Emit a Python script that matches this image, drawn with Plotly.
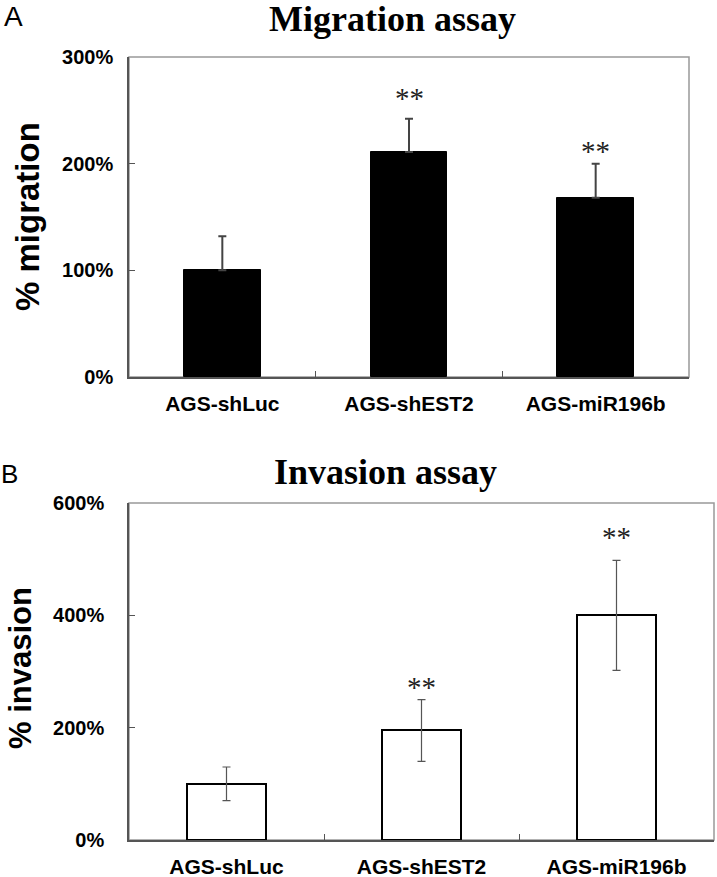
import plotly.graph_objects as go

# ---- data ----
categories = ["AGS-shLuc", "AGS-shEST2", "AGS-miR196b"]
migration_pct = [100, 211, 168]
migration_err = [32, 31, 32]
migration_sig = ["", "**", "**"]
invasion_pct = [100, 195, 400]
invasion_err = [30, 55, 98]
invasion_sig = ["", "**", "**"]
migration_ticks = [0, 100, 200, 300]
invasion_ticks = [0, 200, 400, 600]

W, H = 717, 877
def px(x): return x / W
def py(y): return 1 - y / H

fig = go.Figure()

fig.add_trace(go.Bar(
    x=categories, y=migration_pct, xaxis="x", yaxis="y", width=0.41,
    marker=dict(color="black", line=dict(color="black", width=1)),
    error_y=dict(type="data", symmetric=False, array=migration_err,
                 arrayminus=[0] * len(migration_err),
                 color="#444", thickness=2, width=4),
    showlegend=False, hoverinfo="skip"))

fig.add_trace(go.Bar(
    x=categories, y=invasion_pct, xaxis="x2", yaxis="y2", width=0.41,
    marker=dict(color="white", line=dict(color="black", width=2)),
    error_y=dict(type="data", array=invasion_err, color="#555",
                 thickness=1.2, width=4),
    showlegend=False, hoverinfo="skip"))

tickfont = dict(family="Liberation Sans, Arial", size=20, color="black", weight="bold")
xtickfont = dict(family="Liberation Sans, Arial", size=21, color="black", weight="bold")

common_x = dict(type="category", showline=True, linecolor="#555", linewidth=1.5,
                ticks="inside", tickson="boundaries", ticklen=6, tickcolor="#555",
                tickfont=xtickfont, showgrid=False, zeroline=False, fixedrange=True,
                automargin=False)
common_y = dict(showline=True, linecolor="#555", linewidth=1.5, ticks="inside",
                ticklen=6, tickcolor="#555", tickfont=tickfont, tickmode="array",
                showgrid=False, zeroline=False, fixedrange=True, automargin=False)

fig.update_layout(
    width=W, height=H, margin=dict(l=0, r=0, t=0, b=0, autoexpand=False),
    paper_bgcolor="white", plot_bgcolor="white", bargap=0,
    xaxis=dict(domain=[px(129), px(689)], anchor="y", ticklabelstandoff=7, **common_x),
    yaxis=dict(domain=[py(377), py(57)], anchor="x", range=[0, 300],
               tickvals=migration_ticks, ticktext=[f"{v}%" for v in migration_ticks],
               ticklabelstandoff=10, **common_y),
    xaxis2=dict(domain=[px(129), px(714)], anchor="y2", ticklabelstandoff=7, **common_x),
    yaxis2=dict(domain=[py(840), py(503)], anchor="x2", range=[0, 600],
                tickvals=invasion_ticks, ticktext=[f"{v}%" for v in invasion_ticks],
                ticklabelstandoff=19, **common_y),
)

# light frame (top/right)
for xr, yr in (("x domain", "y domain"), ("x2 domain", "y2 domain")):
    fig.add_shape(type="rect", xref=xr, yref=yr, x0=0, x1=1, y0=0, y1=1,
                  line=dict(color="#999", width=1.5), layer="below")

ann = []
# significance stars
star_shift_a = [0, 21, 13]
star_shift_b = [0, 13, 23]
star_font = dict(family="Liberation Serif, Times New Roman", size=29, color="#222")
for i, c in enumerate(categories):
    if migration_sig[i]:
        ann.append(dict(x=c, y=migration_pct[i] + migration_err[i], xref="x", yref="y",
                        text=migration_sig[i], showarrow=False, yanchor="middle",
                        yshift=star_shift_a[i], font=star_font))
    if invasion_sig[i]:
        ann.append(dict(x=c, y=invasion_pct[i] + invasion_err[i], xref="x2", yref="y2",
                        text=invasion_sig[i], showarrow=False, yanchor="middle",
                        yshift=star_shift_b[i], font=star_font))

serif_bold = dict(family="Liberation Serif, Times New Roman", size=36, color="black", weight="bold")
ann += [
    dict(text="Migration assay", x=px(392), y=py(19), xref="paper", yref="paper",
         showarrow=False, xanchor="center", yanchor="middle", font=serif_bold),
    dict(text="Invasion assay", x=px(385), y=py(472), xref="paper", yref="paper",
         showarrow=False, xanchor="center", yanchor="middle", font=serif_bold),
    dict(text="A", x=px(13.5), y=1, xref="paper", yref="paper", showarrow=False,
         xanchor="center", yanchor="top", borderpad=0,
         font=dict(family="Liberation Sans, Arial", size=28, color="black")),
    dict(text="B", x=px(9), y=py(474), xref="paper", yref="paper", showarrow=False,
         xanchor="center", yanchor="middle",
         font=dict(family="Liberation Sans, Arial", size=26, color="black")),
    dict(text="% migration", x=px(27), y=py(217), xref="paper", yref="paper",
         showarrow=False, textangle=-90, xanchor="center", yanchor="middle",
         font=dict(family="Liberation Sans, Arial", size=33, color="black", weight="bold")),
    dict(text="% invasion", x=px(20), y=py(668), xref="paper", yref="paper",
         showarrow=False, textangle=-90, xanchor="center", yanchor="middle",
         font=dict(family="Liberation Sans, Arial", size=31, color="black", weight="bold")),
]
fig.update_layout(annotations=ann)

fig.write_html("out.html", config={"displayModeBar": False},
               post_script="document.body.style.margin='0';document.body.style.overflow='hidden';")
